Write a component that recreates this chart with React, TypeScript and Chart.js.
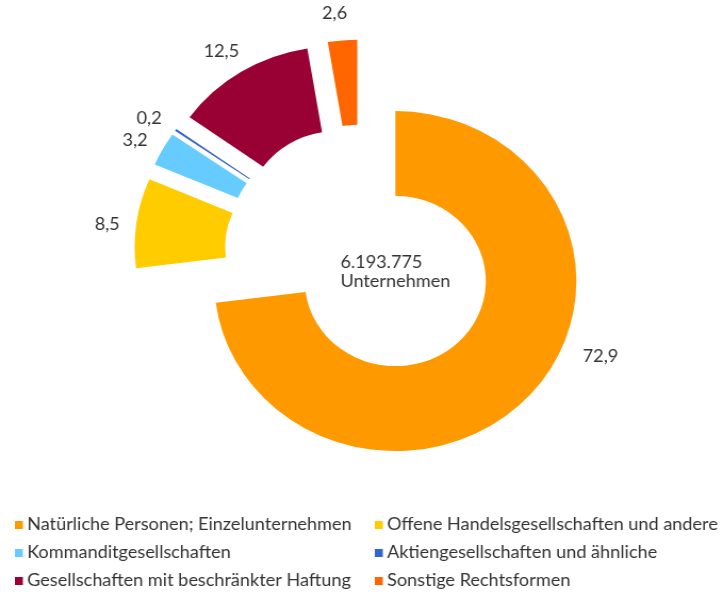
import React, { useEffect, useRef } from 'react';
import { Chart, registerables } from 'chart.js';

Chart.register(...registerables);

// ---- data ----
const categories = [
  'Natürliche Personen; Einzelunternehmen',
  'Offene Handelsgesellschaften und andere',
  'Kommanditgesellschaften',
  'Aktiengesellschaften und ähnliche',
  'Gesellschaften mit beschränkter Haftung',
  'Sonstige Rechtsformen',
];
const shares = [72.9, 8.5, 3.2, 0.2, 12.5, 2.6];
const colors = ['#FF9900', '#FFCC00', '#66CCFF', '#3366CC', '#990033', '#FF6600'];
const totalCompanies = 6193775;
const centerUnit = 'Unternehmen';

// ---- layout (canvas drawn at W x H, displayed stretched to 723 x 596) ----
const W = 679;
const H = 596;
const FONT = 'Lato, "Open Sans", sans-serif';
const TEXT = '#333333';

const fmtShare = (v: number) => v.toFixed(1).replace('.', ',');
const fmtInt = (v: number) => String(v).replace(/\B(?=(\d{3})+(?!\d))/g, '.');

const explodePlugin = {
  id: 'explode',
  afterDatasetsUpdate(chart: any, _args: any, opts: any) {
    const meta = chart.getDatasetMeta(0);
    meta.data.forEach((el: any) => {
      const mid = (el.startAngle + el.endAngle) / 2;
      el.x += Math.cos(mid) * opts.distance;
      el.y += Math.sin(mid) * opts.distance;
    });
  },
};

const labelsPlugin = {
  id: 'sliceLabels',
  afterDatasetsDraw(chart: any, _args: any, opts: any) {
    const ctx = chart.ctx;
    const meta = chart.getDatasetMeta(0);
    const data = chart.data.datasets[0].data as number[];
    ctx.save();
    ctx.font = opts.font;
    ctx.fillStyle = opts.color;
    ctx.textAlign = 'center';
    ctx.textBaseline = 'middle';
    meta.data.forEach((el: any, i: number) => {
      const o = opts.overrides[i];
      const a = o
        ? (o.angle * Math.PI) / 180 - Math.PI / 2
        : (el.startAngle + el.endAngle) / 2 + (opts.angleShift * Math.PI) / 180;
      const r = el.outerRadius + (o ? o.gap : opts.gap);
      ctx.fillText(fmtShare(data[i]), el.x + Math.cos(a) * r, el.y + Math.sin(a) * r);
    });
    // centre text, anchored on the main slice's centre
    const main: any = meta.data[0];
    const lines = [fmtInt(totalCompanies), centerUnit];
    const maxW = Math.max(...lines.map((l) => ctx.measureText(l).width));
    ctx.textAlign = 'left';
    const x0 = main.x - maxW / 2;
    ctx.fillText(lines[0], x0, main.y - 19);
    ctx.fillText(lines[1], x0, main.y);
    ctx.restore();
  },
};

const legendPlugin = {
  id: 'gridLegend',
  afterDraw(chart: any, _args: any, opts: any) {
    const ctx = chart.ctx;
    ctx.save();
    ctx.font = opts.font;
    ctx.textBaseline = 'middle';
    ctx.textAlign = 'left';
    const labels: string[] = chart.data.labels;
    const bg: string[] = chart.data.datasets[0].backgroundColor;
    labels.forEach((lab, i) => {
      const col = i % 2;
      const row = Math.floor(i / 2);
      const x = opts.colX[col];
      const y = opts.rowY0 + row * opts.rowGap;
      ctx.fillStyle = bg[i];
      ctx.fillRect(x, y - opts.boxH / 2, opts.boxW, opts.boxH);
      ctx.fillStyle = opts.color;
      ctx.fillText(lab, x + opts.textGap, y);
    });
    ctx.restore();
  },
};

export default function App() {
  const ref = useRef<HTMLCanvasElement>(null);

  useEffect(() => {
    document.body.style.margin = '0';
    const canvas = ref.current!;
    const chart = new Chart(canvas, {
      type: 'doughnut',
      data: {
        labels: categories,
        datasets: [
          {
            data: shares,
            backgroundColor: colors,
            borderWidth: 0,
          },
        ],
      },
      plugins: [explodePlugin, labelsPlugin, legendPlugin],
      options: {
        responsive: false,
        animation: false,
        devicePixelRatio: 1,
        radius: 170,
        cutout: '50%',
        layout: { padding: { left: 0, right: 1, top: 0, bottom: 90.6 } },
        plugins: {
          legend: { display: false },
          tooltip: { enabled: false },
          explode: { distance: 43 },
          sliceLabels: {
            font: `17px ${FONT}`,
            color: TEXT,
            gap: 27,
            angleShift: -1.5,
            overrides: { 0: { angle: 111.5, gap: 37 } },
          },
          gridLegend: {
            font: `17px ${FONT}`,
            color: TEXT,
            colX: [14, 352],
            rowY0: 525,
            rowGap: 28,
            boxW: 7.5,
            boxH: 8,
            textGap: 11.5,
          },
        } as any,
      },
    });
    return () => chart.destroy();
  }, []);

  return (
    <canvas
      ref={ref}
      width={W}
      height={H}
      style={{ position: 'fixed', left: 0, top: 0, width: '723px', height: '596px' }}
    />
  );
}
